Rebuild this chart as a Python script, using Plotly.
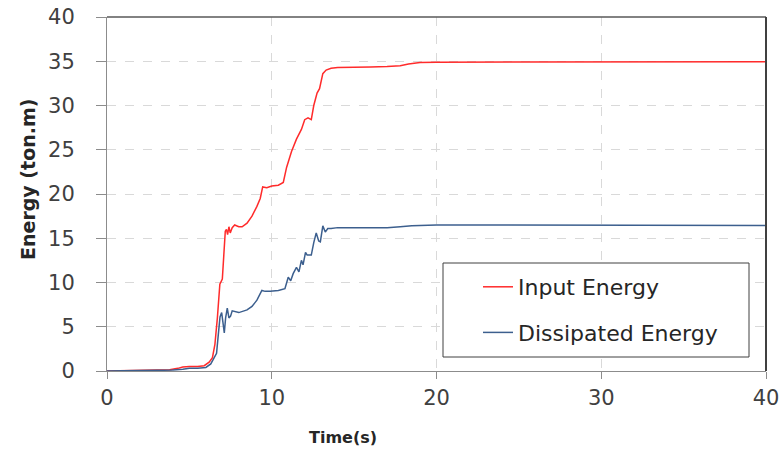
import plotly.graph_objects as go

# ---- data ----
t_input = [0, 1, 2, 3, 3.8, 4.3, 4.6, 5.0, 5.5, 5.9, 6.2, 6.4, 6.55, 6.7, 6.85, 7.0, 7.1,
           7.18, 7.25, 7.32, 7.4, 7.48, 7.6, 7.75, 8.0, 8.2, 8.5, 8.8, 9.1, 9.3, 9.45, 9.7,
           10.0, 10.4, 10.7, 10.9, 11.2, 11.5, 11.8, 12.0, 12.2, 12.4, 12.55, 12.75, 12.9,
           13.1, 13.3, 13.6, 14.0, 15.0, 16.0, 17.0, 17.8, 18.3, 19.0, 20.0, 25, 30, 35, 40]
e_input = [0, 0.02, 0.05, 0.1, 0.15, 0.3, 0.45, 0.5, 0.5, 0.6, 1.0, 1.5, 3.0, 6.0, 9.8, 10.4,
           13.5, 15.8, 16.0, 15.4, 16.3, 15.6, 16.2, 16.5, 16.3, 16.3, 16.7, 17.5, 18.6, 19.5,
           20.8, 20.7, 20.9, 21.0, 21.3, 23.0, 24.8, 26.2, 27.3, 28.4, 28.6, 28.4, 30.0, 31.4,
           31.9, 33.6, 34.0, 34.2, 34.3, 34.3, 34.35, 34.4, 34.5, 34.7, 34.85, 34.9, 34.9,
           34.95, 34.95, 34.95]

t_diss = [0, 2, 4, 4.6, 5.0, 5.5, 6.0, 6.3, 6.5, 6.65, 6.75, 6.86, 6.96, 7.05, 7.12, 7.2,
          7.3, 7.4, 7.5, 7.6, 7.77, 8.0, 8.5, 8.8, 9.1, 9.25, 9.4, 9.6, 9.9, 10.4, 10.8, 11.0,
          11.15, 11.3, 11.5, 11.65, 11.8, 11.9, 12.05, 12.15, 12.4, 12.55, 12.7, 12.85, 12.95,
          13.1, 13.25, 13.4, 13.6, 14, 15, 17, 17.8, 18.5, 20, 25, 30, 35, 40]
e_diss = [0, 0.02, 0.1, 0.2, 0.3, 0.3, 0.4, 0.8, 1.5, 2.0, 4.0, 6.1, 6.6, 5.0, 4.3, 6.0,
          7.1, 6.0, 6.2, 6.8, 6.7, 6.6, 6.9, 7.3, 8.0, 8.5, 9.1, 9.0, 9.0, 9.1, 9.3, 10.6,
          10.2, 11.0, 11.7, 11.2, 12.5, 12.0, 13.4, 13.1, 13.1, 14.5, 15.6, 14.7, 14.6,
          16.4, 15.7, 16.1, 16.1, 16.2, 16.2, 16.2, 16.3, 16.4, 16.5, 16.5, 16.5, 16.5, 16.45]

x_ticks = [0, 10, 20, 30, 40]
y_ticks = [0, 5, 10, 15, 20, 25, 30, 35, 40]

FONT = "DejaVu Sans"

# plot area in window pixels: x 107..766, y 17..371
PW, PH = 659, 354

fig = go.Figure()
fig.add_trace(go.Scatter(x=t_input, y=e_input, mode="lines", name="Input Energy",
                         legendgroup="a", line=dict(color="#ff2b2b", width=1.5)))
fig.add_trace(go.Scatter(x=t_diss, y=e_diss, mode="lines", name="Dissipated Energy",
                         legendgroup="b", line=dict(color="#3c5f8e", width=1.5)))

fig.update_layout(
    width=783, height=451,
    margin=dict(l=107, r=17, t=17, b=80, autoexpand=False),
    paper_bgcolor="white", plot_bgcolor="white",
    font=dict(family=FONT, size=21, color="#404040"),
    showlegend=True,
    legend=dict(x=(478 - 107) / PW, y=(371 - 266) / PH, xanchor="left", yanchor="top",
                bgcolor="rgba(0,0,0,0)", borderwidth=0,
                font=dict(family=FONT, size=22, color="#262626"),
                traceorder="grouped", tracegroupgap=14),
    xaxis=dict(range=[0, 40], tickvals=x_ticks, showgrid=True, gridcolor="#d9d9d9",
               griddash="dash", gridwidth=1, showline=True, linecolor="#8c8c8c",
               linewidth=1, ticks="outside", ticklen=7, tickcolor="#8c8c8c",
               ticklabelstandoff=1, zeroline=False, automargin=False,
               ticklabeloverflow="allow"),
    yaxis=dict(range=[0, 40], tickvals=y_ticks, showgrid=True, gridcolor="#d9d9d9",
               griddash="dash", gridwidth=1, showline=True, linecolor="#8c8c8c",
               linewidth=1, ticks="outside", ticklen=10, tickcolor="#8c8c8c",
               ticklabelstandoff=17, zeroline=False, automargin=False,
               ticklabeloverflow="allow"),
    annotations=[
        dict(text="<b>Time(s)</b>", xref="paper", yref="paper", x=(343 - 107) / PW,
             y=-(437 - 371) / PH, xanchor="center", yanchor="middle", showarrow=False,
             font=dict(family=FONT, size=16, color="#262626")),
        dict(text="<b>Energy (ton.m)</b>", xref="paper", yref="paper", x=-(107 - 28) / PW,
             y=(371 - 180) / PH, xanchor="center", yanchor="middle", showarrow=False,
             textangle=-90, font=dict(family=FONT, size=19, color="#262626")),
    ],
    shapes=[
        # legend frame
        dict(type="rect", xref="paper", yref="paper", layer="above",
             x0=(443 - 107) / PW, x1=(749 - 107) / PW,
             y0=(371 - 357) / PH, y1=(371 - 263) / PH,
             fillcolor="white", line=dict(color="#404040", width=1)),
        # chart frame (top and right)
        dict(type="line", xref="paper", yref="paper", x0=0, x1=1, y0=1, y1=1,
             line=dict(color="#595959", width=1.5)),
        dict(type="line", xref="paper", yref="paper", x0=1, x1=1, y0=0, y1=1,
             line=dict(color="#404040", width=2)),
    ],
)

fig.write_html("out.html", config={"displayModeBar": False},
               post_script="document.body.style.margin='0px';document.body.style.overflow='hidden';")
